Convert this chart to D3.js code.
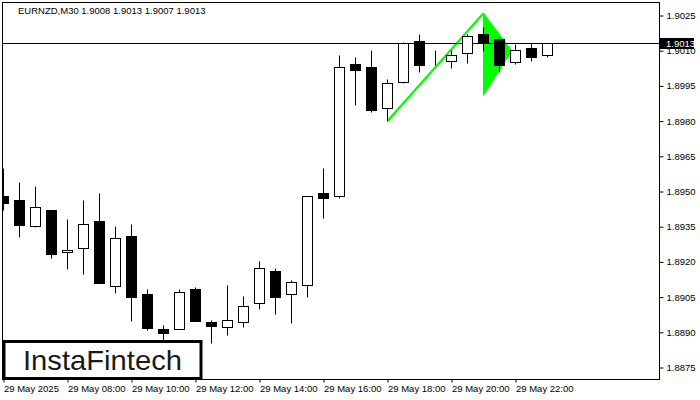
<!DOCTYPE html>
<html>
<head>
<meta charset="utf-8">
<script src="https://cdn.jsdelivr.net/npm/d3@7/dist/d3.min.js"></script>
<style>
html,body{margin:0;padding:0;background:#fff;}
svg{display:block;}
text{font-family:"Liberation Sans",Arial,sans-serif;}
</style>
</head>
<body>
<svg id="chart" width="700" height="400"></svg>
<script>
// ---- data ----
const symbolTitle = "EURNZD,M30  1.9008 1.9013 1.9007 1.9013";
const candleTimes = ["06:00","06:30","07:00","07:30","08:00","08:30","09:00","09:30","10:00","10:30",
  "11:00","11:30","12:00","12:30","13:00","13:30","14:00","14:30","15:00","15:30",
  "16:00","16:30","17:00","17:30","18:00","18:30","19:00","19:30","20:00","20:30",
  "21:00","21:30","22:00","22:30","23:00"];
const opens  = [1.89479,1.89462,1.89351,1.89419,1.89240,1.89257,1.89372,1.89095,1.89308,1.89061,
  1.88912,1.88912,1.89083,1.88942,1.88921,1.88942,1.89023,1.89159,1.89061,1.89100,
  1.89492,1.89479,1.90041,1.90028,1.89854,1.89965,1.90139,1.90050,1.90054,1.90088,
  1.90169,1.90148,1.90050,1.90109,1.90080];
const highs  = [1.89598,1.89538,1.89521,1.89419,1.89381,1.89462,1.89492,1.89351,1.89359,1.89083,
  1.88929,1.89083,1.89091,1.88950,1.89100,1.89053,1.89202,1.89172,1.89121,1.89479,
  1.89598,1.90080,1.90071,1.90101,1.89977,1.90135,1.90169,1.90101,1.90101,1.90169,
  1.90199,1.90156,1.90126,1.90131,1.90130];
const lows   = [1.89419,1.89304,1.89347,1.89215,1.89168,1.89146,1.89108,1.89065,1.88946,1.88908,
  1.88865,1.88912,1.88946,1.88852,1.88887,1.88921,1.88997,1.88976,1.88938,1.89048,
  1.89385,1.89470,1.89867,1.89837,1.89800,1.89960,1.90007,1.90037,1.90024,1.90045,
  1.90097,1.90007,1.90041,1.90054,1.90070];
const closes = [1.89449,1.89355,1.89432,1.89232,1.89249,1.89359,1.89108,1.89300,1.89048,1.88916,
  1.88895,1.89070,1.88946,1.88925,1.88950,1.89010,1.89172,1.89048,1.89112,1.89479,
  1.89470,1.90028,1.90016,1.89845,1.89960,1.90131,1.90037,1.90050,1.90080,1.90161,
  1.90135,1.90037,1.90101,1.90071,1.90130];
const yTickValues = [1.9025,1.9010,1.8995,1.8980,1.8965,1.8950,1.8935,1.8920,1.8905,1.8890,1.8875];
const xTickTimes  = ["06:00","08:00","10:00","12:00","14:00","16:00","18:00","20:00","22:00"];
const xTickLabels = ["29 May 2025","29 May 08:00","29 May 10:00","29 May 12:00","29 May 14:00",
  "29 May 16:00","29 May 18:00","29 May 20:00","29 May 22:00"];
const currentPrice = 1.9013;
const poleTimes  = ["18:00","21:00"];
const polePrices = [1.8980,1.9026];
const flagTimes  = ["21:00","21:53","21:00"];
const flagPrices = [1.9026,1.9010,1.8991];
const logoText = "InstaFintech";

// ---- helpers ----
const parseT = s => { const [h,m] = s.split(":").map(Number); return new Date(2025,4,29,h,m); };

// ---- layout ----
const frame = {l:2.5, t:2.5, r:659.5, b:379.5};
const svg = d3.select("#chart");

const x = d3.scaleTime()
  .domain([parseT(candleTimes[0]), parseT(candleTimes[candleTimes.length-1])])
  .range([3.5, 3.5 + 16*(candleTimes.length-1)]);
const y = d3.scaleLinear()
  .domain([yTickValues[yTickValues.length-1], yTickValues[0]])
  .range([367.5, 15.5]);

svg.append("defs").append("clipPath").attr("id","plotClip")
  .append("rect").attr("x",frame.l).attr("y",frame.t)
  .attr("width",frame.r-frame.l).attr("height",frame.b-frame.t);

const plot = svg.append("g").attr("clip-path","url(#plotClip)");

// pattern (behind candles)
plot.append("path")
  .attr("d", d3.line()(flagTimes.map((t,i)=>[x(parseT(t)), y(flagPrices[i])])) + "Z")
  .attr("fill","#00ff00").attr("stroke","#00ff00").attr("stroke-width",1);
plot.append("path")
  .attr("d", d3.line()(poleTimes.map((t,i)=>[x(parseT(t)), y(polePrices[i])])))
  .attr("fill","none").attr("stroke","#00ff00").attr("stroke-width",2.2);

// current price line
const cpY = Math.floor(y(currentPrice)) + 0.5;
plot.append("line").attr("x1",frame.l).attr("x2",frame.r).attr("y1",cpY).attr("y2",cpY)
  .attr("stroke","#000").attr("stroke-width",1);

// candles
const candles = candleTimes.map((t,i)=>({t:parseT(t),o:opens[i],h:highs[i],l:lows[i],c:closes[i]}));
const cg = plot.append("g").selectAll("g").data(candles).join("g");
cg.append("line")
  .attr("x1",d=>x(d.t)).attr("x2",d=>x(d.t))
  .attr("y1",d=>Math.floor(y(d.h))+0.5).attr("y2",d=>Math.floor(y(d.l))+0.5)
  .attr("stroke","#000").attr("stroke-width",1);
cg.append("rect")
  .attr("x",d=>x(d.t)-5).attr("width",10)
  .attr("y",d=>Math.floor(y(Math.max(d.o,d.c)))+0.5)
  .attr("height",d=>Math.floor(y(Math.min(d.o,d.c))) - Math.floor(y(Math.max(d.o,d.c))))
  .attr("fill",d=>d.c>=d.o ? "#fff" : "#000")
  .attr("stroke","#000").attr("stroke-width",1);

// frame
svg.append("rect").attr("x",frame.l).attr("y",frame.t)
  .attr("width",frame.r-frame.l).attr("height",frame.b-frame.t)
  .attr("fill","none").attr("stroke","#000").attr("stroke-width",1);

// y axis
const yAxis = svg.append("g").attr("transform",`translate(${frame.r},0)`)
  .call(d3.axisRight(y).tickValues(yTickValues).tickFormat(d3.format(".4f")).tickSize(4).tickPadding(3));
yAxis.select(".domain").remove();
yAxis.selectAll("text").attr("font-size","9.5px").attr("fill","#000")
  .attr("font-family",'"Liberation Sans",Arial,sans-serif');
yAxis.selectAll("line").attr("stroke","#000");

// x axis
const xAxis = svg.append("g").attr("transform",`translate(0,${frame.b})`)
  .call(d3.axisBottom(x).tickValues(xTickTimes.map(parseT))
    .tickFormat((d,i)=>xTickLabels[i]).tickSize(3).tickPadding(3));
xAxis.select(".domain").remove();
xAxis.selectAll("text").attr("text-anchor","start").attr("dy",null).attr("y",12.5)
  .attr("font-size","9.5px").attr("fill","#000")
  .attr("font-family",'"Liberation Sans",Arial,sans-serif');
xAxis.selectAll("line").attr("stroke","#000");

// current price label
const cpg = svg.append("g");
cpg.append("rect").attr("x",660).attr("y",cpY-5.5).attr("width",34).attr("height",11).attr("fill","#000");
cpg.append("text").attr("x",666).attr("y",cpY).attr("dy","0.34em")
  .attr("font-size","9.5px").attr("fill","#fff").text(d3.format(".4f")(currentPrice));

// title
svg.append("text").attr("x",18).attr("y",14).attr("font-size","9.5px").attr("fill","#000").text(symbolTitle);

// logo
const lg = svg.append("g");
lg.append("rect").attr("x",4).attr("y",341.5).attr("width",197).attr("height",37)
  .attr("fill","#fff").attr("stroke","#000").attr("stroke-width",3);
lg.append("text").attr("x",23).attr("y",369.5)
  .attr("font-family","Roboto, 'Open Sans', sans-serif").attr("font-weight",500)
  .attr("font-size","28px").attr("fill","#1a1a1a")
  .attr("textLength",159).attr("lengthAdjust","spacingAndGlyphs").text(logoText);
</script>
</body>
</html>
